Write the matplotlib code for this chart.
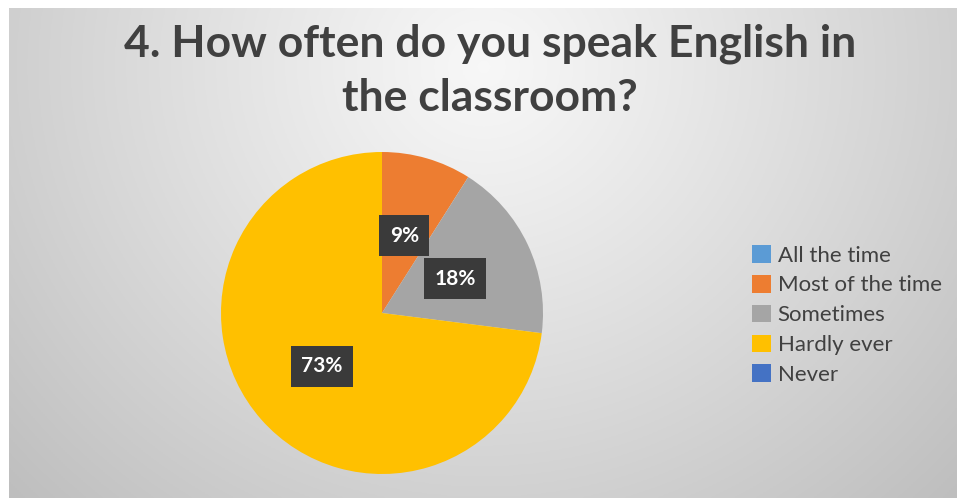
import numpy as np
import matplotlib
matplotlib.use("Agg")
import matplotlib.pyplot as plt
from matplotlib.patches import Patch

title = "4. How often do you speak English in\nthe classroom?"
categories = ["All the time", "Most of the time", "Sometimes", "Hardly ever", "Never"]
values = [0, 9, 18, 73, 0]
colors = ["#5B9BD5", "#ED7D31", "#A5A5A5", "#FFC000", "#4472C4"]

W, H = 957, 498
fig = plt.figure(figsize=(W / 100, H / 100), dpi=100)
fig.patch.set_facecolor("white")

# gradient background
bg = fig.add_axes([9 / W, 0, (W - 9) / W, (H - 8) / H])
bg.set_axis_off()
ny, nx = 245, 474
yy, xx = np.mgrid[0:ny, 0:nx]
cx, cy = nx * 0.5, ny * 0.12
d = np.sqrt(((xx - cx) / nx) ** 2 + ((yy - cy) / ny * 0.55) ** 2)
d = d / d.max()
top, bot = 0.97, 0.745
val = top - (top - bot) * np.clip(d, 0, 1) ** 1.1
img = np.dstack([val, val, val])
bg.imshow(img, aspect="auto", extent=[0, 1, 0, 1], origin="upper")
bg.set_xlim(0, 1)
bg.set_ylim(0, 1)

# title
fig.text(490 / W, 1 - 71 / H, title, ha="center", va="center", fontsize=32,
         fontweight="bold", family=["Lato", "DejaVu Sans"], color="#404040",
         linespacing=1.42)

# pie
r_px = 161
cxp, cyp = 382, 313
ax = fig.add_axes([(cxp - r_px) / W, 1 - (cyp + r_px) / H, 2 * r_px / W, 2 * r_px / H])
wedges, _ = ax.pie(values, colors=colors, startangle=90, counterclock=False,
                   radius=1.0, wedgeprops=dict(linewidth=0))
ax.set_xlim(-1, 1)
ax.set_ylim(-1, 1)
ax.set_aspect("equal")
ax.set_axis_off()

total = sum(values)
cum = 0
for v in values:
    if v > 0:
        mid = (cum + v / 2) / total * 2 * np.pi
        x = 0.5 * np.sin(mid)
        y = 0.5 * np.cos(mid)
        ax.text(x, y, f"{round(v / total * 100)}%", ha="center", va="center",
                fontsize=15, fontweight="bold", color="white",
                family=["Lato", "DejaVu Sans"],
                bbox=dict(boxstyle="square,pad=0.5", fc="#3a3a3a", ec="none"))
    cum += v

handles = [Patch(facecolor=c, edgecolor="none") for c in colors]
fig.legend(handles, categories, loc="center left", bbox_to_anchor=(752 / W, 1 - 315 / H),
           frameon=False, handlelength=0.85, handleheight=0.85,
           handletextpad=0.3, labelspacing=0.42, borderaxespad=0, borderpad=0,
           prop=dict(family=["Lato", "DejaVu Sans"], size=16),
           labelcolor="#404040")

fig.savefig("out.png", dpi=100)
